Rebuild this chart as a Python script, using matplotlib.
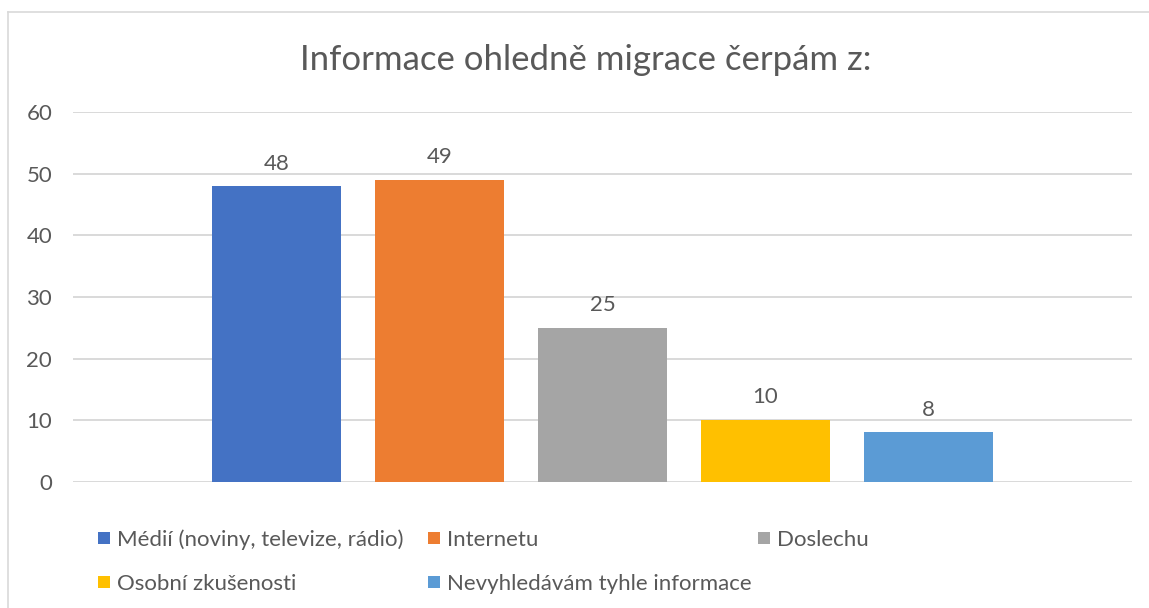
import matplotlib
matplotlib.use('Agg')
import matplotlib.pyplot as plt
from matplotlib.patches import Rectangle
from matplotlib.lines import Line2D

# data
labels = ['Médií (noviny, televize, rádio)', 'Internetu', 'Doslechu',
          'Osobní zkušenosti', 'Nevyhledávám tyhle informace']
values = [48, 49, 25, 10, 8]
colors = ['#4472C4', '#ED7D31', '#A5A5A5', '#FFC000', '#5B9BD5']
yticks = [0, 10, 20, 30, 40, 50, 60]
title = 'Informace ohledně migrace čerpám z:'

txtc = '#595959'
gridc = '#D9D9D9'
fs = 16
plt.rcParams['font.family'] = ['Lato', 'DejaVu Sans']

W, H = 1149, 608
fig = plt.figure(figsize=(W/100, H/100), dpi=100)
fig.patch.set_facecolor('white')

# chart border (only top and left visible in the crop)
fig.add_artist(Line2D([8/W, 1], [1-12/H, 1-12/H], color=gridc, lw=1.2))
fig.add_artist(Line2D([8/W, 8/W], [0, 1-12/H], color=gridc, lw=1.2))

ax = fig.add_axes([73/W, 1-481.7/H, (1132-73)/W, (481.7-112.3)/H])
xs = range(len(values))
bars = ax.bar(xs, values, width=0.79, color=colors, zorder=3)
for x, v in zip(xs, values):
    ax.annotate(str(v), (x, v), xytext=(0, 12), textcoords='offset points',
                ha='center', va='baseline', fontsize=fs, color=txtc)

ax.set_xlim(-1.25, 5.25)
ax.set_ylim(0, 60)
ax.set_yticks(yticks)
ax.set_xticks([])
ax.grid(axis='y', color=gridc, lw=1.4, zorder=0)
for s in ax.spines.values():
    s.set_visible(False)
ax.tick_params(axis='y', length=0, pad=15, labelsize=fs, labelcolor=txtc)

fig.text(586/W, 1-70/H, title, ha='center', va='baseline',
         fontsize=25, color=txtc)

# legend laid out like Excel: 3 equal columns, row-major
colx = [98, 428, 758]
rowy = [538, 582]
for i, (lab, c) in enumerate(zip(labels, colors)):
    x0 = colx[i % 3]
    y0 = rowy[i // 3]
    fig.add_artist(Rectangle((x0/W, 1-(y0+6)/H), 12/W, 12/H,
                             facecolor=c, edgecolor='none'))
    fig.text((x0+19)/W, 1-y0/H, lab, ha='left', va='center_baseline',
             fontsize=fs, color=txtc)

fig.savefig('out.png', dpi=100)
